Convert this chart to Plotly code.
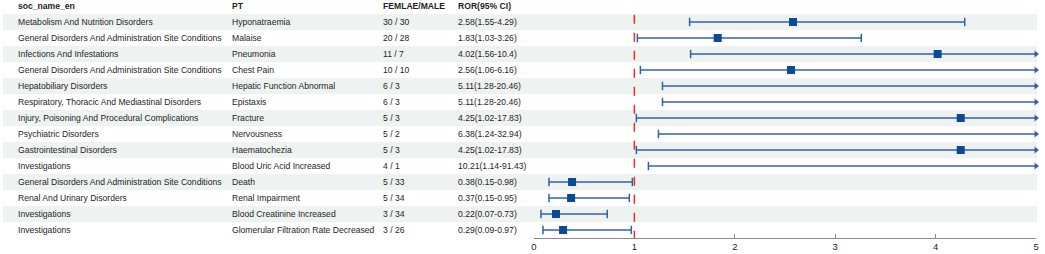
import plotly.graph_objects as go

soc = [
    "Metabolism And Nutrition Disorders",
    "General Disorders And Administration Site Conditions",
    "Infections And Infestations",
    "General Disorders And Administration Site Conditions",
    "Hepatobiliary Disorders",
    "Respiratory, Thoracic And Mediastinal Disorders",
    "Injury, Poisoning And Procedural Complications",
    "Psychiatric Disorders",
    "Gastrointestinal Disorders",
    "Investigations",
    "General Disorders And Administration Site Conditions",
    "Renal And Urinary Disorders",
    "Investigations",
    "Investigations",
]
pt = [
    "Hyponatraemia", "Malaise", "Pneumonia", "Chest Pain",
    "Hepatic Function Abnormal", "Epistaxis", "Fracture", "Nervousness",
    "Haematochezia", "Blood Uric Acid Increased", "Death", "Renal Impairment",
    "Blood Creatinine Increased", "Glomerular Filtration Rate Decreased",
]
female = [30, 20, 11, 10, 6, 6, 5, 5, 5, 4, 5, 5, 3, 3]
male = [30, 28, 7, 10, 3, 3, 3, 2, 3, 1, 33, 34, 34, 26]
ror = [2.58, 1.83, 4.02, 2.56, 5.11, 5.11, 4.25, 6.38, 4.25, 10.21, 0.38, 0.37, 0.22, 0.29]
lower = [1.55, 1.03, 1.56, 1.06, 1.28, 1.28, 1.02, 1.24, 1.02, 1.14, 0.15, 0.15, 0.07, 0.09]
upper = [4.29, 3.26, 10.4, 6.16, 20.46, 20.46, 17.83, 32.94, 17.83, 91.43, 0.98, 0.95, 0.73, 0.97]
ror_text = [
    "2.58(1.55-4.29)", "1.83(1.03-3.26)", "4.02(1.56-10.4)", "2.56(1.06-6.16)",
    "5.11(1.28-20.46)", "5.11(1.28-20.46)", "4.25(1.02-17.83)", "6.38(1.24-32.94)",
    "4.25(1.02-17.83)", "10.21(1.14-91.43)", "0.38(0.15-0.98)", "0.37(0.15-0.95)",
    "0.22(0.07-0.73)", "0.29(0.09-0.97)",
]
headers = ["soc_name_en", "PT", "FEMLAE/MALE", "ROR(95% CI)"]
x_ticks = [0, 1, 2, 3, 4, 5]

W, H = 1045, 254
XMAX = 5
FONT = "Liberation Sans, Arial, sans-serif"
FS = 8.6
TXT = "#1e1e1e"
LINE_C = "#2f62a8"
MARK_C = "#0d4a96"
BAND_C = "#eef2f1"

n = len(soc)
rows = list(range(n))

fig = go.Figure()

# row bands
for i in rows:
    if i % 2 == 0:
        fig.add_shape(type="rect", xref="paper", yref="y", x0=0, x1=1040 / W,
                      y0=i - 0.5, y1=i + 0.5, fillcolor=BAND_C, line_width=0, layer="below")

# text columns
col_x = [13 / W, 228 / W, 380 / W, 456 / W]
for c, h in enumerate(headers):
    fig.add_annotation(x=col_x[c], y=-1, xref="paper", yref="y", text="<b>%s</b>" % h,
                       showarrow=False, xanchor="left", yanchor="middle",
                       font=dict(family=FONT, size=FS, color=TXT))
for i in rows:
    vals = [soc[i], pt[i], "%d / %d" % (female[i], male[i]), ror_text[i]]
    for c, v in enumerate(vals):
        fig.add_annotation(x=col_x[c], y=i, xref="paper", yref="y", text=v,
                           showarrow=False, xanchor="left", yanchor="middle",
                           font=dict(family=FONT, size=FS, color=TXT))

# reference line at 1
fig.add_shape(type="line", xref="x", yref="y", x0=1, x1=1, y0=-0.45, y1=13.5,
              line=dict(color="#e8302a", width=1.5, dash="dash"))

# CI lines
lx, ly = [], []
for i in rows:
    lx += [lower[i], min(upper[i], XMAX), None]
    ly += [i, i, None]
fig.add_trace(go.Scatter(x=lx, y=ly, mode="lines", line=dict(color=LINE_C, width=1.5),
                         hoverinfo="skip", showlegend=False))

# caps
cx, cy = [], []
for i in rows:
    cx.append(lower[i]); cy.append(i)
    if upper[i] <= XMAX:
        cx.append(upper[i]); cy.append(i)
fig.add_trace(go.Scatter(x=cx, y=cy, mode="markers",
                         marker=dict(symbol="line-ns", size=6, line=dict(color=LINE_C, width=1.5)),
                         hoverinfo="skip", showlegend=False))

# arrows for truncated CIs
ax_, ay_ = [], []
for i in rows:
    if upper[i] > XMAX:
        ax_.append(XMAX); ay_.append(i)
fig.add_trace(go.Scatter(x=ax_, y=ay_, mode="markers", cliponaxis=False,
                         marker=dict(symbol="triangle-right", size=6, color=LINE_C),
                         hoverinfo="skip", showlegend=False))

# points
px_, py_ = [], []
for i in rows:
    if ror[i] <= XMAX:
        px_.append(ror[i]); py_.append(i)
fig.add_trace(go.Scatter(x=px_, y=py_, mode="markers",
                         marker=dict(symbol="square", size=8, color=MARK_C),
                         showlegend=False))

fig.update_layout(
    width=W, height=H, margin=dict(l=0, r=0, t=0, b=16),
    paper_bgcolor="white", plot_bgcolor="rgba(0,0,0,0)",
    xaxis=dict(domain=[534 / W, 1039 / W], range=[0, XMAX], tickvals=x_ticks,
               showgrid=False, zeroline=False, showline=True, linecolor="#8a8a8a",
               linewidth=1, ticks="inside", ticklen=4, tickcolor="#8a8a8a",
               tickfont=dict(family=FONT, size=9.5, color=TXT)),
    yaxis=dict(range=[13.5, -1.375], showgrid=False, zeroline=False,
               showticklabels=False, showline=False),
    font=dict(family=FONT),
)

fig.write_html("out.html", config={"displayModeBar": False},
               post_script="document.body.style.margin='0';document.body.style.overflow='hidden';")
